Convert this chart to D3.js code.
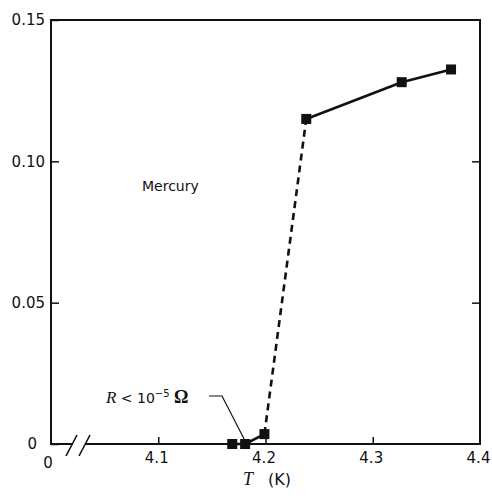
<!DOCTYPE html>
<html>
<head>
<meta charset="utf-8">
<script src="https://cdn.jsdelivr.net/npm/d3@7"></script>
<style>
  html, body { margin: 0; padding: 0; background: #fff; }
  svg { display: block; }
  text { font-family: "DejaVu Sans", sans-serif; fill: #111; }
</style>
</head>
<body>
<svg id="chart" width="492" height="496"></svg>
<script>
// Resistance of mercury near its superconducting transition (Onnes, 1911)
const temperature = [4.169, 4.181, 4.199, 4.238, 4.327, 4.373];   // K
const resistance  = [0, 0, 0.0035, 0.115, 0.128, 0.1325];          // ohm
// segment styles between successive points: measured (solid) vs. jump (dashed)
const segmentDashed = [false, false, true, false, false];

const xTicks = [4.1, 4.2, 4.3, 4.4];
const yTicks = [0, 0.05, 0.10, 0.15];
const yTickLabels = ["0", "0.05", "0.10", "0.15"];

const svg = d3.select("#chart");
const plotLeft = 51, plotRight = 480, plotTop = 20, plotBottom = 444;

const x = d3.scaleLinear().domain([4.0, 4.4]).range([plotLeft, plotRight]);
const y = d3.scaleLinear().domain([0, 0.15]).range([plotBottom, plotTop]);

const ink = "#111";
const tickFont = 15;

// left axis: ticks point inward
const yAxis = svg.append("g")
  .attr("transform", `translate(${plotLeft},0)`)
  .call(d3.axisLeft(y).tickValues(yTicks).tickSizeInner(-8).tickSizeOuter(0).tickPadding(6)
    .tickFormat((d, i) => yTickLabels[i]));
yAxis.select(".domain").remove();
yAxis.selectAll(".tick line").attr("stroke", ink).attr("stroke-width", 1.5);
yAxis.selectAll(".tick text").attr("font-size", tickFont)
  .attr("font-family", "DejaVu Sans, sans-serif").attr("fill", ink);
yAxis.selectAll(".tick").filter(d => d === 0).select("text").attr("x", -14);

// right axis: ticks only
const yAxisR = svg.append("g")
  .attr("transform", `translate(${plotRight},0)`)
  .call(d3.axisRight(y).tickValues([0.05, 0.10]).tickSizeInner(-8).tickSizeOuter(0).tickFormat(""));
yAxisR.select(".domain").remove();
yAxisR.selectAll(".tick line").attr("stroke", ink).attr("stroke-width", 1.5);

// bottom axis
const xAxis = svg.append("g")
  .attr("transform", `translate(0,${plotBottom})`)
  .call(d3.axisBottom(x).tickValues(xTicks).tickSizeInner(-7).tickSizeOuter(0).tickPadding(8)
    .tickFormat(d3.format(".1f")));
xAxis.select(".domain").remove();
xAxis.selectAll(".tick line").attr("stroke", ink).attr("stroke-width", 1.5);
xAxis.selectAll(".tick text").attr("font-size", tickFont)
  .attr("font-family", "DejaVu Sans, sans-serif").attr("fill", ink).attr("dx", -2);
xAxis.selectAll(".tick").filter(d => d === 4.4).select("line").remove();

// suppressed-zero label below the axis origin
svg.append("text").attr("x", x(4.0) - 3).attr("y", plotBottom + 24)
  .attr("text-anchor", "middle").attr("font-size", tickFont).text("0");

// frame (bottom edge interrupted by the axis break)
const breakL = x(4.0) + 22, breakR = x(4.0) + 35;
const frame = svg.append("g").attr("fill", "none").attr("stroke", ink);
frame.append("path").attr("stroke-width", 2)
  .attr("d", `M${breakL},${plotBottom}H${plotLeft}V${plotTop}H${plotRight}V${plotBottom}H${breakR}`);
[breakL, breakR].forEach(bx => {
  frame.append("line").attr("stroke-width", 1.6)
    .attr("x1", bx - 7).attr("y1", plotBottom + 12)
    .attr("x2", bx + 4).attr("y2", plotBottom - 9);
});

// data line, segment by segment
const pts = temperature.map((t, i) => [x(t), y(resistance[i])]);
segmentDashed.forEach((dashed, i) => {
  svg.append("line")
    .attr("x1", pts[i][0]).attr("y1", pts[i][1])
    .attr("x2", pts[i + 1][0]).attr("y2", pts[i + 1][1])
    .attr("stroke", ink).attr("stroke-width", 2.6)
    .attr("stroke-dasharray", dashed ? "7,5" : null);
});

// square markers
const ms = 10;
svg.append("g").selectAll("rect").data(pts).join("rect")
  .attr("x", d => d[0] - ms / 2).attr("y", d => d[1] - ms / 2)
  .attr("width", ms).attr("height", ms).attr("fill", ink);

// label
svg.append("text").attr("x", 142).attr("y", 191).attr("font-size", 14).text("Mercury");

// annotation for the superconducting state
const ann = svg.append("text").attr("x", 106).attr("y", 403).attr("font-size", 14);
ann.append("tspan").attr("font-family", "Liberation Serif, serif").attr("font-style", "italic")
  .attr("font-size", 17).text("R");
ann.append("tspan").text(" < 10");
ann.append("tspan").attr("dy", -6).attr("font-size", 10).text("\u22125");
ann.append("tspan").attr("dy", 6).attr("font-family", "Liberation Serif, serif")
  .attr("font-weight", "bold").attr("font-size", 18).text(" \u03A9");

svg.append("path").attr("fill", "none").attr("stroke", ink).attr("stroke-width", 1.2)
  .attr("d", `M209,396H222L${pts[1][0] - 1},${pts[1][1] - 5}`);

// axis title
const title = svg.append("text").attr("x", 243).attr("y", 485).attr("font-size", 16);
title.append("tspan").attr("font-family", "Liberation Serif, serif").attr("font-style", "italic")
  .attr("font-size", 18).text("T");
title.append("tspan").attr("dx", 15).text("(K)");
</script>
</body>
</html>
